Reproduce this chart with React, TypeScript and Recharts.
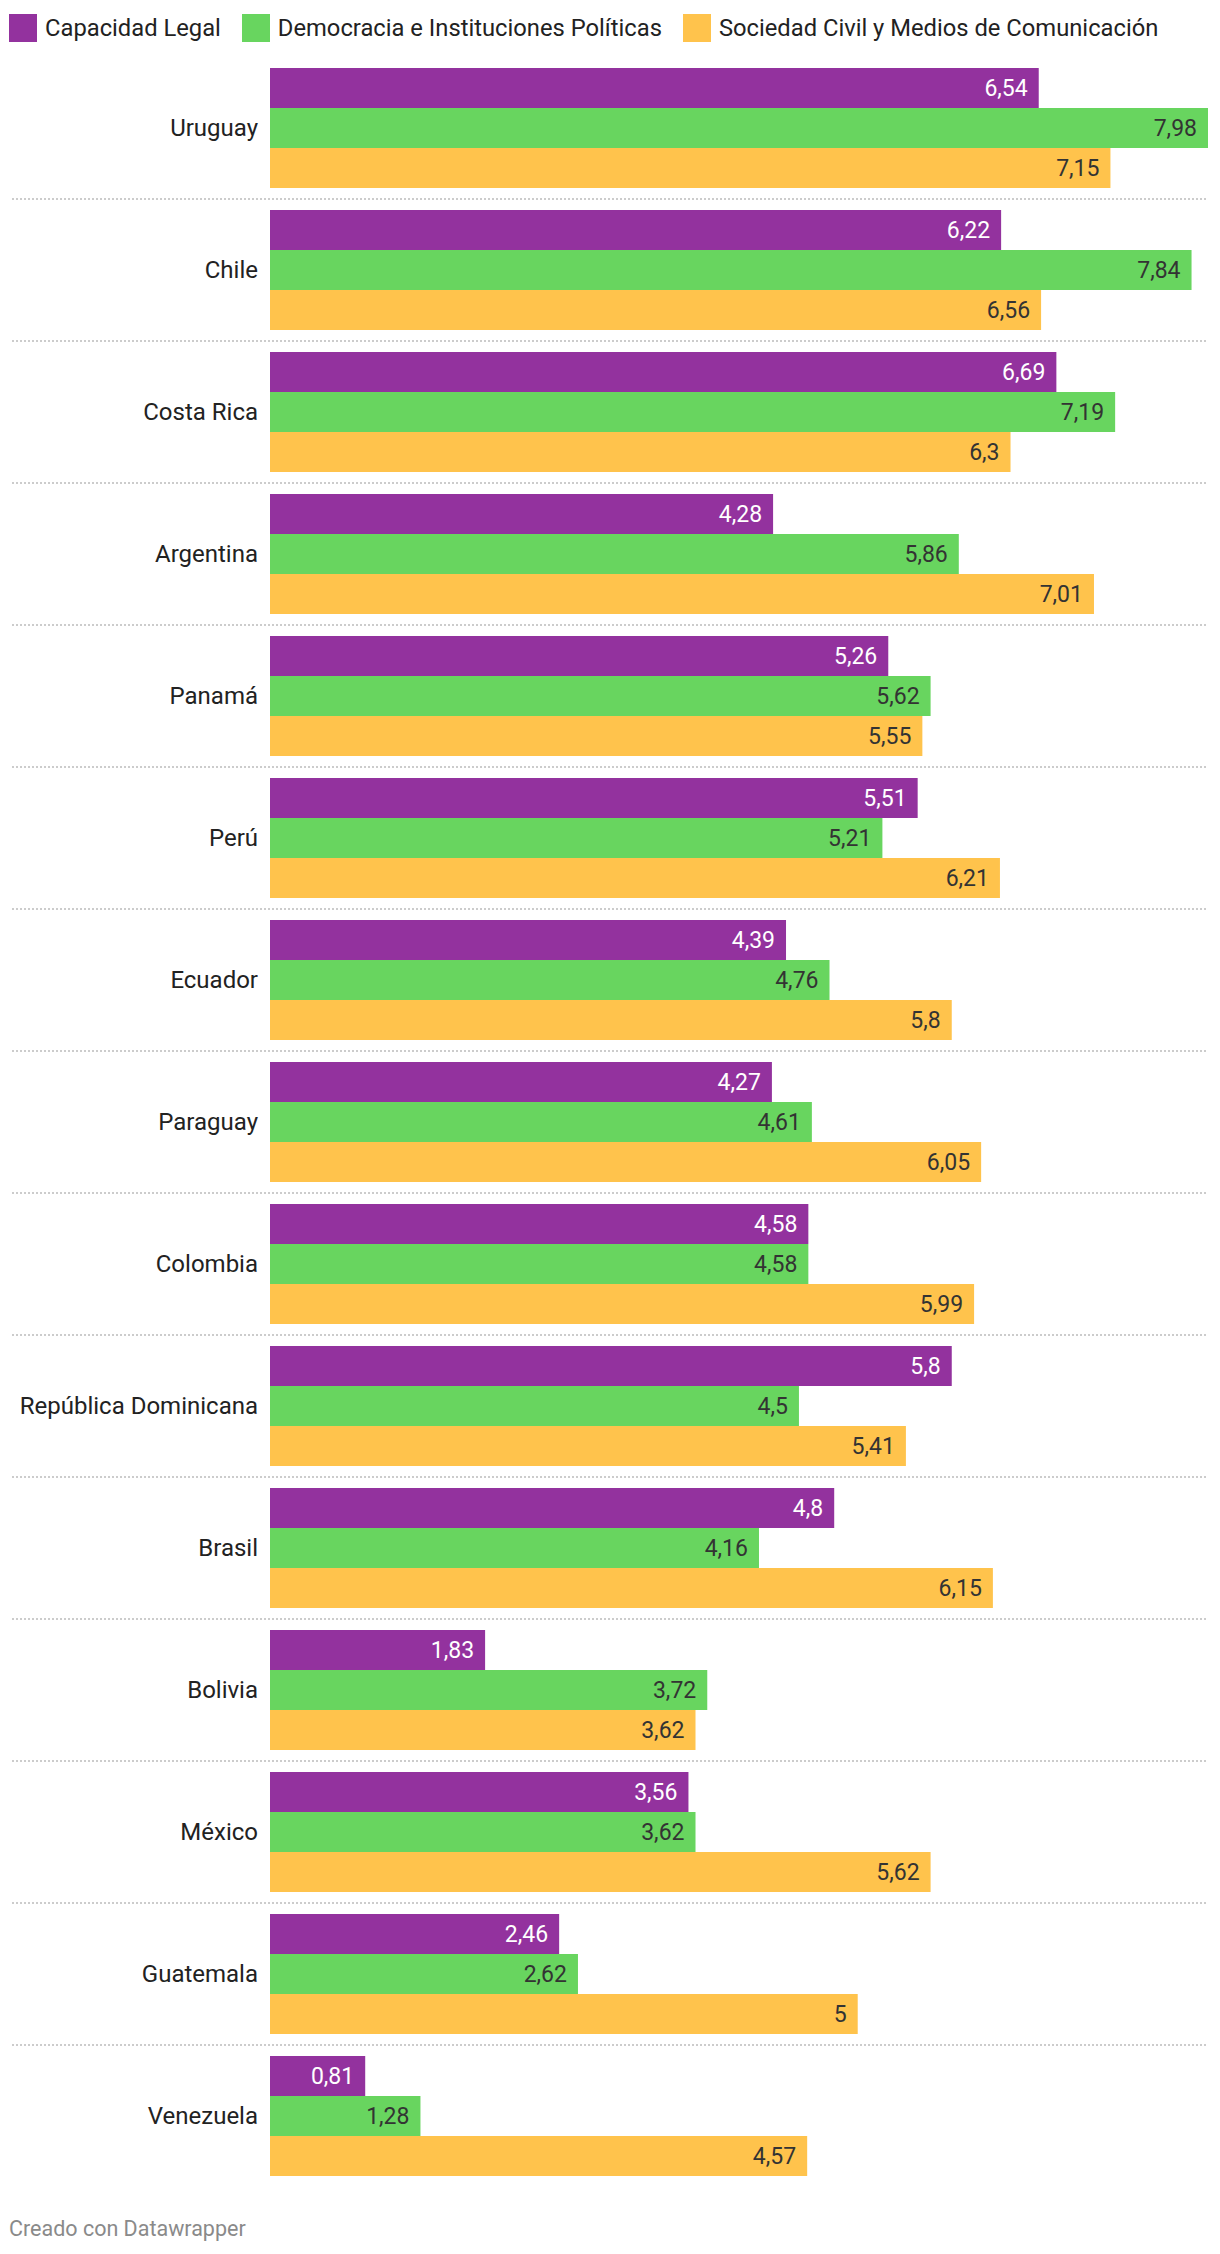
import React from "react"
import { Bar, BarChart, LabelList, XAxis, YAxis } from "recharts"

const countries = [
  "Uruguay",
  "Chile",
  "Costa Rica",
  "Argentina",
  "Panamá",
  "Perú",
  "Ecuador",
  "Paraguay",
  "Colombia",
  "República Dominicana",
  "Brasil",
  "Bolivia",
  "México",
  "Guatemala",
  "Venezuela",
]
const capacidadLegal = [6.54, 6.22, 6.69, 4.28, 5.26, 5.51, 4.39, 4.27, 4.58, 5.8, 4.8, 1.83, 3.56, 2.46, 0.81]
const democracia = [7.98, 7.84, 7.19, 5.86, 5.62, 5.21, 4.76, 4.61, 4.58, 4.5, 4.16, 3.72, 3.62, 2.62, 1.28]
const sociedadCivil = [7.15, 6.56, 6.3, 7.01, 5.55, 6.21, 5.8, 6.05, 5.99, 5.41, 6.15, 3.62, 5.62, 5, 4.57]

const series = [
  { key: "capacidad", name: "Capacidad Legal", color: "#93329e", text: "#ffffff" },
  { key: "democracia", name: "Democracia e Instituciones Políticas", color: "#68d55f", text: "#333333" },
  { key: "sociedad", name: "Sociedad Civil y Medios de Comunicación", color: "#ffc34c", text: "#333333" },
]

const data = countries.map((country, i) => ({
  country,
  capacidad: capacidadLegal[i],
  democracia: democracia[i],
  sociedad: sociedadCivil[i],
}))

const FONT = "Roboto, 'Noto Sans', sans-serif"
const BAND = 142

// comma decimals like the original
const fmt = (v: any) => String(v).replace(".", ",")

function CountryTick(props: any) {
  const { x, y, payload } = props
  const idx = countries.indexOf(payload.value)
  return (
    <g>
      <text
        x={x}
        y={y}
        textAnchor="end"
        dominantBaseline="central"
        fontSize={24}
        fontFamily={FONT}
        fill="#222"
      >
        {payload.value}
      </text>
      {idx < countries.length - 1 && (
        <line
          x1={12}
          x2={1208}
          y1={y + BAND / 2}
          y2={y + BAND / 2}
          stroke="#cccccc"
          strokeWidth={2}
          strokeDasharray="2 2"
        />
      )}
    </g>
  )
}

export default function App() {
  return (
    <div
      style={{
        position: "absolute",
        left: 0,
        top: 0,
        width: 1220,
        height: 2254,
        background: "#fff",
        fontFamily: FONT,
      }}
    >
      <div
        style={{
          position: "absolute",
          top: 14,
          left: 9,
          height: 28,
          display: "flex",
          alignItems: "center",
        }}
      >
        {series.map((s) => (
          <div key={s.key} style={{ display: "flex", alignItems: "center", marginRight: 21 }}>
            <div style={{ width: 28, height: 28, background: s.color, marginRight: 8 }} />
            <span style={{ fontSize: 23.75, color: "#222", whiteSpace: "nowrap" }}>{s.name}</span>
          </div>
        ))}
      </div>

      <div style={{ position: "absolute", top: 0, left: 0 }}>
        <BarChart
          width={1220}
          height={2200}
          data={data}
          layout="vertical"
          margin={{ top: 57, right: 12, bottom: 13, left: 0 }}
          barSize={40}
          barGap={0}
          barCategoryGap={11}
        >
          <XAxis type="number" domain={[0, "dataMax"]} hide />
          <YAxis
            type="category"
            dataKey="country"
            width={270}
            axisLine={false}
            tickLine={false}
            tickSize={6}
            tickMargin={6}
            interval={0}
            tick={<CountryTick />}
          />
          {series.map((s) => (
            <Bar key={s.key} dataKey={s.key} name={s.name} fill={s.color} isAnimationActive={false}>
              <LabelList
                dataKey={s.key}
                position="insideRight"
                offset={11}
                formatter={fmt}
                fill={s.text}
                fontSize={23}
                fontFamily={FONT}
              />
            </Bar>
          ))}
        </BarChart>
      </div>

      <div
        style={{
          position: "absolute",
          left: 9,
          top: 2218,
          fontSize: 21.5,
          lineHeight: "21px",
          color: "#8a8a8a",
        }}
      >
        Creado con Datawrapper
      </div>
    </div>
  )
}
